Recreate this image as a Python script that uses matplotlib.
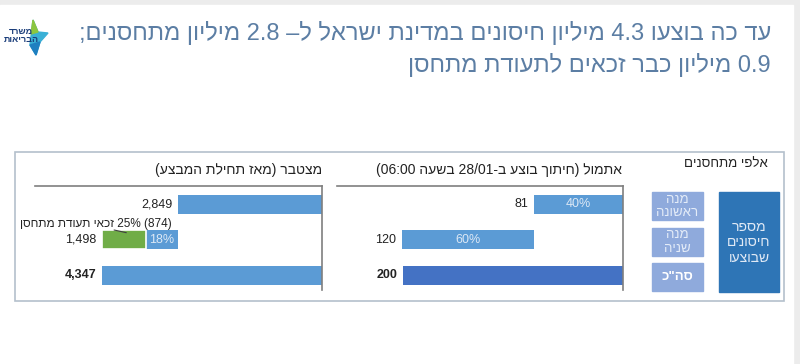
import re
import matplotlib.pyplot as plt
from matplotlib.patches import Rectangle, Polygon

plt.rcParams['font.family'] = ['Liberation Sans', 'DejaVu Sans']

# data
title_lines = ['עד כה בוצעו 4.3 מיליון חיסונים במדינת ישראל ל– 2.8 מיליון מתחסנים;',
               '0.9 מיליון כבר זכאים לתעודת מתחסן']
row_labels = ['מנה ראשונה', 'מנה שניה', 'סה"כ']
cum_values = [2849, 1498, 4347]
cum_eligible = 874
cum_pct = '18%'
eligible_note = '(874) 25% זכאי תעודת מתחסן'
yday_values = [81, 120, 200]
yday_pct = ['40%', '60%']
cum_title = 'מצטבר (מאז תחילת המבצע)'
yday_title = 'אתמול (חיתוך בוצע ב-28/01 בשעה 06:00)'
unit_label = 'אלפי מתחסנים'
side_label = ['מספר', 'חיסונים', 'שבוצעו']

BLUE = '#5b9bd5'
DARK = '#4472c4'
GREEN = '#70ad47'
PCT = '#dce8f5'


def heb(s):
    # matplotlib has no bidi: write the text in visual order
    r = s[::-1].translate(str.maketrans('()', ')('))
    return re.sub(r'[0-9.,:/%]+', lambda m: m.group(0)[::-1], r)


fig = plt.figure(figsize=(8, 3.64), dpi=100, facecolor='#ececec')
bg = fig.add_axes([0, 0, 1, 1])
bg.set_xlim(0, 800)
bg.set_ylim(364, 0)
bg.axis('off')
bg.add_patch(Rectangle((0, 5), 793, 359, color='white', zorder=0))

# logo
bg.add_patch(Polygon([(33, 20), (38, 32), (48, 33), (40, 42), (36, 55), (30, 45)], color='#3ab0d6', zorder=1))
bg.add_patch(Polygon([(33, 20), (38, 32), (31, 34)], color='#8cc63f', zorder=1))
bg.add_patch(Polygon([(40, 42), (36, 55), (30, 45)], color='#1f7fc0', zorder=1))
bg.text(21, 31, heb('משרד'), fontsize=6.5, color='#1a3d7a', ha='center', va='center', weight='bold', zorder=2)
bg.text(21, 40, heb('הבריאות'), fontsize=6.5, color='#1a3d7a', ha='center', va='center', weight='bold', zorder=2)

# title
bg.text(771, 33, heb(title_lines[0]), fontsize=17, color='#5c7ea4', ha='right', va='center')
bg.text(771, 65, heb(title_lines[1]), fontsize=17, color='#5c7ea4', ha='right', va='center')

# frame
bg.add_patch(Rectangle((15, 152), 769, 149, fill=False, ec='#b4c0cc', lw=1.2))

bg.text(322, 170, heb(cum_title), fontsize=10, ha='right', va='center', color='#222222')
bg.text(622, 170, heb(yday_title), fontsize=10, ha='right', va='center', color='#222222')
bg.text(768, 164, heb(unit_label), fontsize=9.5, ha='right', va='center', color='#222222')

# side legend
for i, lab in enumerate(row_labels):
    y0 = 192 + i * 35.5
    bg.add_patch(Rectangle((652, y0), 51, 28, color='#8faadc'))
    words = lab.split(' ')
    if len(words) == 2:
        bg.text(677.5, y0 + 8, heb(words[0]), fontsize=9.5, ha='center', va='center', color='#e4ecf8')
        bg.text(677.5, y0 + 21, heb(words[1]), fontsize=9.5, ha='center', va='center', color='#e4ecf8')
    else:
        bg.text(677.5, y0 + 14, heb(lab), fontsize=9.5, ha='center', va='center', color='white', weight='bold')
bg.add_patch(Rectangle((719, 192), 60, 100, color='#2e75b6'))
for i, w in enumerate(side_label):
    bg.text(749, 227 + i * 15.5, heb(w), fontsize=10, ha='center', va='center', color='#e0e9f5')


def setup(ax, xmax):
    ax.set_xlim(xmax, 0)
    ax.set_ylim(2.42, -0.52)
    ax.patch.set_alpha(0)
    ax.spines['left'].set_visible(False)
    ax.spines['bottom'].set_visible(False)
    for s in ['top', 'right']:
        ax.spines[s].set_color('#7f7f7f')
        ax.spines[s].set_linewidth(1.2)
    ax.set_xticks([])
    ax.set_yticks([])


def value_label(ax, x, y, v, bold=False):
    ax.annotate(f'{v:,}', (x, y), xytext=(-4, 0), textcoords='offset points',
                ha='right', va='center', fontsize=9, color='#222222',
                weight='bold' if bold else 'normal')


H = 0.54

# cumulative panel
ax1 = fig.add_axes([35 / 800, 1 - 290 / 364, 287 / 800, 104 / 364])
setup(ax1, cum_values[2] * 287 / 220)
second_blue = cum_values[1] - cum_eligible
ax1.barh(0, cum_values[0], height=H, color=BLUE)
ax1.barh(1, second_blue, left=cum_values[0], height=H, color=BLUE)
ax1.barh(1, cum_eligible, left=cum_values[0] + second_blue, height=H, color=GREEN, ec='white', lw=1.2)
ax1.barh(2, cum_values[2], height=H, color=BLUE)
ax1.text(cum_values[0] + second_blue / 2, 1, cum_pct, ha='center', va='center', fontsize=9, color=PCT)
value_label(ax1, cum_values[0], 0, cum_values[0])
value_label(ax1, cum_values[2], 1, cum_values[1])
value_label(ax1, cum_values[2], 2, cum_values[2], bold=True)
ax1.annotate(heb(eligible_note), xy=(cum_values[2] - cum_eligible * 0.55, 0.8),
             xytext=(20, 364 - 224), textcoords='figure pixels', ha='left', va='center',
             fontsize=8.5, color='#222222',
             arrowprops=dict(arrowstyle='-', color='#404040', lw=0.8, relpos=(0.62, 0),
                             shrinkA=0, shrinkB=0))

# yesterday panel
ax2 = fig.add_axes([337 / 800, 1 - 290 / 364, 286 / 800, 104 / 364])
setup(ax2, yday_values[2] * 286 / 220)
ax2.barh(0, yday_values[0], height=H, color=BLUE)
ax2.barh(1, yday_values[1], left=yday_values[0], height=H, color=BLUE)
ax2.barh(2, yday_values[2], height=H, color=DARK)
ax2.text(yday_values[0] / 2, 0, yday_pct[0], ha='center', va='center', fontsize=9, color=PCT)
ax2.text(yday_values[0] + yday_values[1] / 2, 1, yday_pct[1], ha='center', va='center', fontsize=9, color=PCT)
value_label(ax2, yday_values[0], 0, yday_values[0])
value_label(ax2, yday_values[0] + yday_values[1], 1, yday_values[1])
value_label(ax2, yday_values[2], 2, yday_values[2], bold=True)

fig.savefig('out.png', dpi=100, facecolor=fig.get_facecolor())
